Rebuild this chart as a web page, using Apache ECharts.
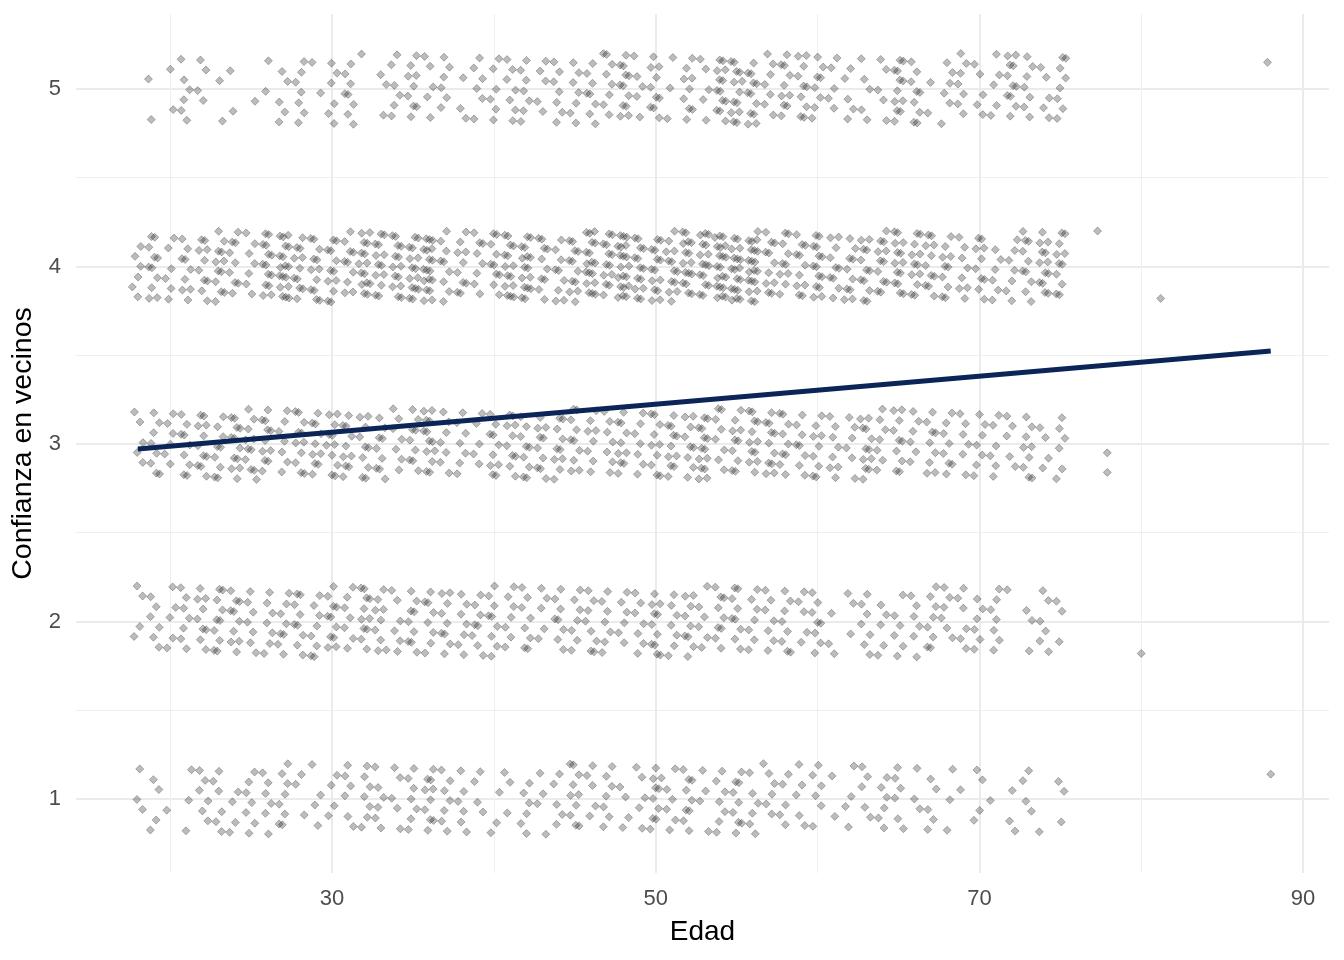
<!DOCTYPE html>
<html>
<head>
<meta charset="utf-8">
<script src="https://cdn.jsdelivr.net/npm/echarts@6/dist/echarts.min.js"></script>
<style>
html,body{margin:0;padding:0;background:#fff;}
#chart{width:1344px;height:960px;}
</style>
</head>
<body>
<div id="chart"></div>
<script>
// ---- Data ----
// Ages (integer) shown in the main bands
var ages = [18,19,20,21,22,23,24,25,26,27,28,29,30,31,32,33,34,35,36,37,38,39,40,41,42,43,44,45,46,47,48,49,50,51,52,53,54,55,56,57,58,59,60,61,62,63,64,65,66,67,68,69,70,71,72,73,74,75];
// Number of respondents at each age for each answer level (1..5)
var countsLevel5 = [0,2,2,6,4,2,2,1,2,5,7,2,6,8,1,3,6,9,5,6,3,6,6,7,7,5,7,7,8,8,12,5,10,3,9,5,13,13,12,7,10,10,8,5,5,5,5,12,9,2,6,7,5,5,11,7,5,8];
var countsLevel4 = [6,11,6,9,10,12,9,7,14,18,11,12,12,10,15,13,14,15,18,9,10,8,10,15,16,10,9,12,18,13,20,14,14,13,16,16,20,18,20,11,10,11,14,10,10,12,12,14,12,11,10,8,10,6,7,10,13,11];
var countsLevel3 = [5,8,6,9,11,9,12,11,11,7,11,10,11,10,10,9,7,9,13,7,7,5,10,10,9,10,10,10,8,7,10,7,10,11,9,14,8,10,12,11,9,8,9,8,6,12,7,10,6,9,8,6,7,6,5,9,4,6];
var countsLevel2 = [4,6,5,7,9,10,10,7,7,8,9,8,11,7,11,9,6,9,8,9,7,8,9,7,8,5,8,7,8,7,6,7,11,7,9,6,9,9,7,7,8,5,8,3,3,7,5,6,6,8,6,6,6,7,1,3,6,3];
var countsLevel1 = [3,4,1,3,6,6,4,7,6,8,3,4,4,6,7,6,5,7,10,7,6,4,3,3,6,4,5,10,5,7,4,5,10,6,9,4,7,9,6,6,5,5,6,2,4,5,6,6,3,5,3,1,4,1,3,4,1,3];
var levels = [5,4,3,2,1];
// Isolated older respondents (age, plotted value)
var extraAges   = [77.3, 77.9, 77.9, 80.0, 81.2, 87.8, 88.0];
var extraValues = [4.20, 2.95, 2.84, 1.82, 3.82, 5.15, 1.14];
// Linear fit (lm) line endpoints
var fitAges   = [18, 88];
var fitValues = [2.972, 3.524];
// Axis ticks
var xMajorTicks = [30, 50, 70, 90];
var xMinorTicks = [20, 40, 60, 80];
var yMajorTicks = [1, 2, 3, 4, 5];
var yMinorTicks = [1.5, 2.5, 3.5, 4.5];
var xTitle = 'Edad';
var yTitle = 'Confianza en vecinos';

// ---- Build jittered display points (ggplot geom_jitter style, deterministic) ----
var countsByLevel = {5: countsLevel5, 4: countsLevel4, 3: countsLevel3, 2: countsLevel2, 1: countsLevel1};
var JX = 0.35, JY = 0.2;
function frac(v){ return v - Math.floor(v); }
var points = [];
var n = 0;
levels.forEach(function(lv){
  var counts = countsByLevel[lv];
  ages.forEach(function(a, i){
    for (var k = 0; k < counts[i]; k++) {
      n++;
      var u = frac(0.5 + n * 0.7548776662466927);
      var v = frac(0.5 + n * 0.5698402909980532);
      points.push([a + (u - 0.5) * 2 * JX, lv + (v - 0.5) * 2 * JY]);
    }
  });
});
extraAges.forEach(function(a, i){ points.push([a, extraValues[i]]); });
var fitLine = fitAges.map(function(a, i){ return [a, fitValues[i]]; });

var FONT = '"Liberation Sans", Arial, sans-serif';
var chart = echarts.init(document.getElementById('chart'), null, {renderer: 'canvas'});
chart.setOption({
  animation: false,
  backgroundColor: '#ffffff',
  grid: {left: 76, right: 15, top: 14, bottom: 87, containLabel: false, outerBoundsMode: 'none'},
  xAxis: [
    {
      type: 'value', min: 14.18, max: 91.6, position: 'bottom',
      axisLine: {show: false},
      axisTick: {show: false, customValues: xMajorTicks},
      axisLabel: {customValues: xMajorTicks, color: '#4D4D4D', fontSize: 22, margin: 15, fontFamily: FONT},
      splitLine: {show: true, lineStyle: {color: '#EBEBEB', width: 2}},
      name: xTitle, nameLocation: 'middle', nameGap: 45,
      nameTextStyle: {color: '#000', fontSize: 28, fontFamily: FONT}
    },
    {
      type: 'value', min: 14.18, max: 91.6, position: 'bottom',
      axisLine: {show: false},
      axisTick: {show: false, customValues: xMinorTicks},
      axisLabel: {show: false, customValues: xMinorTicks},
      splitLine: {show: true, lineStyle: {color: '#EFEFEF', width: 1}}
    }
  ],
  yAxis: [
    {
      type: 'value', min: 0.583, max: 5.4225, position: 'left',
      axisLine: {show: false},
      axisTick: {show: false, customValues: yMajorTicks},
      axisLabel: {customValues: yMajorTicks, color: '#4D4D4D', fontSize: 22, margin: 15, fontFamily: FONT},
      splitLine: {show: true, lineStyle: {color: '#EBEBEB', width: 2}},
      name: yTitle, nameLocation: 'middle', nameGap: 33, nameRotate: 90,
      nameTextStyle: {color: '#000', fontSize: 28.5, fontFamily: FONT}
    },
    {
      type: 'value', min: 0.583, max: 5.4225, position: 'left',
      axisLine: {show: false},
      axisTick: {show: false, customValues: yMinorTicks},
      axisLabel: {show: false, customValues: yMinorTicks},
      splitLine: {show: true, lineStyle: {color: '#EFEFEF', width: 1}}
    }
  ],
  series: [
    {
      type: 'scatter', xAxisIndex: 0, yAxisIndex: 0,
      data: points,
      symbol: 'diamond', symbolSize: 8,
      itemStyle: {color: 'rgba(0,0,0,0.33)', borderColor: 'rgba(0,0,0,0.42)', borderWidth: 0.8},
      z: 2, silent: true
    },
    {
      type: 'line', xAxisIndex: 0, yAxisIndex: 0,
      data: fitLine, symbol: 'none',
      lineStyle: {color: '#0B2559', width: 5},
      z: 5, silent: true
    }
  ]
});
</script>
</body>
</html>
